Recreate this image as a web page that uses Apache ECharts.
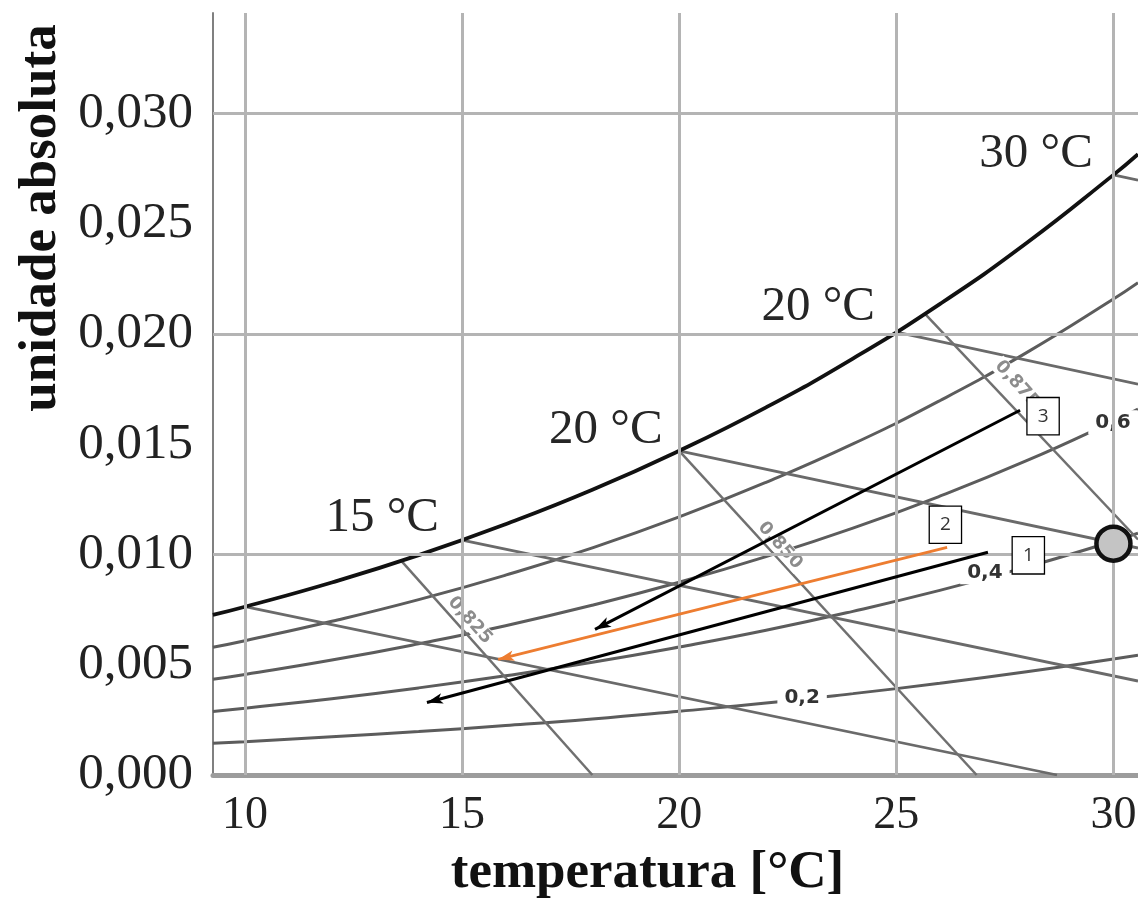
<!DOCTYPE html>
<html><head><meta charset="utf-8">
<script src="https://cdn.jsdelivr.net/npm/echarts@6/dist/echarts.min.js"></script>
<style>html,body{margin:0;padding:0;background:#fff}#c{width:1138px;height:907px}</style>
</head><body><div id="c"></div>
<script>
// axis ticks
const xTicks = [10, 15, 20, 25, 30];
const yTicks = [0, 0.005, 0.010, 0.015, 0.020, 0.025, 0.030];
// temperatures at which the humidity curves are read
const temps  = [9.26, 10, 12, 14, 16, 18, 20, 22, 24, 26, 28, 30, 30.566];
// relative humidity curves (absolute humidity, kg/kg)
const sat100 = [0.00726, 0.00763, 0.00873, 0.00997, 0.01137, 0.01293, 0.01470, 0.01667, 0.01888, 0.02135, 0.02412, 0.02721, 0.02815];
const rh80   = [0.00579, 0.00609, 0.00697, 0.00795, 0.00906, 0.01030, 0.01170, 0.01327, 0.01501, 0.01697, 0.01915, 0.02158, 0.02232];
const rh60   = [0.00434, 0.00456, 0.00521, 0.00595, 0.00677, 0.00770, 0.00874, 0.00990, 0.01119, 0.01264, 0.01425, 0.01604, 0.01659];
const rh40   = [0.00288, 0.00303, 0.00346, 0.00395, 0.00450, 0.00511, 0.00580, 0.00656, 0.00742, 0.00837, 0.00943, 0.01060, 0.01096];
const rh20   = [0.00144, 0.00151, 0.00173, 0.00197, 0.00224, 0.00254, 0.00289, 0.00326, 0.00369, 0.00416, 0.00468, 0.00526, 0.00543];
// wet-bulb lines [T, w] start -> end
const wb10 = [[10, 0.00763], [28.7, 0]];
const wb15 = [[15, 0.01065], [30.566, 0.00426]];
const wb20 = [[20, 0.01470], [30.566, 0.01029]];
const wb25 = [[25, 0.02008], [30.566, 0.01772]];
const wb30 = [[30, 0.02721], [30.566, 0.02697]];
// specific volume lines
const vol825 = [[13.6, 0.00971], [18.0, 0]];
const vol850 = [[20, 0.01470], [26.85, 0]];
const vol875 = [[25.65, 0.02093], [30.566, 0.01068]];
// labels
const wbLabelT = [13.16, 18.31, 23.2, 28.22];
const wbLabelW = [0.01164, 0.01563, 0.02121, 0.02815];
const wbLabelText = ['15 °C', '20 °C', '20 °C', '30 °C'];
const rhLabelT = [29.99, 27.04, 22.83];
const rhLabelW = [0.01599, 0.00919, 0.00352];
const rhLabelText = ['0,6', '0,4', '0,2'];
const vLabelT = [15.18, 22.32, 27.78];
const vLabelW = [0.00701, 0.01041, 0.01772];
const vLabelText = ['0,825', '0,850', '0,875'];
// process arrows [tail, head]
const arrow1 = [[27.11, 0.01010], [14.19, 0.00329]];
const arrow2 = [[26.17, 0.01032], [15.83, 0.00524]];
const arrow3 = [[27.85, 0.01654], [18.06, 0.00660]];
const boxT = [28.04, 26.13, 28.38];
const boxW = [0.00996, 0.01135, 0.01627];
const boxText = ['1', '2', '3'];
const statePoint = [30.0, 0.01049];

const curve = ws => temps.map((t, i) => [t, ws[i]]);
const zipLabels = (ts, ws, txt) => ts.map((t, i) => [t, ws[i], txt[i]]);

const serif = 'Liberation Serif';
const lineSeries = (data, color, width, z) => ({
  type: 'line', data, showSymbol: false, smooth: true, silent: true, z: z || 2,
  lineStyle: { color, width }, emphasis: { disabled: true }
});
const straight = (data, color, width) => ({
  type: 'line', data, showSymbol: false, silent: true, z: 2,
  lineStyle: { color, width }, emphasis: { disabled: true }
});
const labelSeries = (data, label, z) => ({
  type: 'scatter', data, symbolSize: 1, silent: true, z: z || 4,
  itemStyle: { color: 'rgba(0,0,0,0)', opacity: 1 },
  label: Object.assign({ show: true, position: 'inside', formatter: p => p.data[2] }, label),
  emphasis: { disabled: true }
});
const arrowSeries = (coords, color, width) => ({
  type: 'lines', coordinateSystem: 'cartesian2d', silent: true, z: 6,
  symbol: ['none', 'arrow'], symbolSize: [1, [8, 16]],
  lineStyle: { color, width, opacity: 1 },
  data: [{ coords }]
});

const chart = echarts.init(document.getElementById('c'), null, { renderer: 'canvas' });
chart.setOption({
  animation: false,
  backgroundColor: '#fff',
  grid: { left: 213, top: 13, right: 0, bottom: 132, outerBoundsMode: 'none' },
  xAxis: {
    type: 'value', min: 9.263, max: 30.566,
    splitLine: { show: false }, axisTick: { show: false },
    axisLine: { show: true, lineStyle: { color: '#9c9c9c', width: 5 } },
    axisLabel: { customValues: xTicks, fontFamily: serif, fontSize: 46, color: '#222', margin: 18 },
    name: 'temperatura [°C]', nameLocation: 'middle', nameGap: 72,
    nameTextStyle: { fontFamily: serif, fontWeight: 'bold', fontSize: 53, color: '#111', padding: [0, 56, 0, 0] }
  },
  yAxis: {
    type: 'value', min: 0, max: 0.03455,
    splitLine: { show: false }, axisTick: { show: false },
    axisLine: { show: true, lineStyle: { color: '#808080', width: 2 } },
    axisLabel: { customValues: yTicks, fontFamily: serif, fontSize: 51, color: '#222', margin: 20,
      formatter: v => v.toFixed(3).replace('.', ',') },
    name: 'unidade absoluta', nameLocation: 'middle', nameGap: 137, nameRotate: 90,
    nameTextStyle: { fontFamily: serif, fontWeight: 'bold', fontSize: 53, color: '#111', padding: [0, 0, 0, 352] }
  },
  series: [
    {
      type: 'line', data: [], silent: true, z: 1,
      markLine: {
        silent: true, symbol: 'none', label: { show: false }, animation: false,
        lineStyle: { color: '#b4b4b4', width: 3, type: 'solid' },
        emphasis: { disabled: true },
        data: xTicks.map(v => ({ xAxis: v })).concat(yTicks.filter(v => v > 0).map(v => ({ yAxis: v })))
      }
    },
    lineSeries(curve(rh20), '#5c5c5c', 3),
    lineSeries(curve(rh40), '#5c5c5c', 3),
    lineSeries(curve(rh60), '#5c5c5c', 3),
    lineSeries(curve(rh80), '#5c5c5c', 3),
    lineSeries(curve(sat100), '#111', 3.8, 3),
    straight(wb10, '#6a6a6a', 2.8),
    straight(wb15, '#6a6a6a', 2.8),
    straight(wb20, '#6a6a6a', 2.8),
    straight(wb25, '#6a6a6a', 2.8),
    straight(wb30, '#6a6a6a', 2.8),
    straight(vol825, '#707070', 2.5),
    straight(vol850, '#707070', 2.5),
    straight(vol875, '#707070', 2.5),
    labelSeries(zipLabels(vLabelT, vLabelW, vLabelText), {
      fontFamily: 'DejaVu Sans', fontWeight: 'bold', fontSize: 18, color: '#8c8c8c', rotate: -48,
      backgroundColor: '#fff', padding: [0, 2]
    }),
    labelSeries(zipLabels(rhLabelT, rhLabelW, rhLabelText), {
      fontFamily: 'DejaVu Sans', fontWeight: 'bold', fontSize: 20, color: '#333',
      backgroundColor: '#fff', padding: [2, 7]
    }),
    labelSeries(zipLabels(wbLabelT, wbLabelW, wbLabelText), {
      fontFamily: serif, fontSize: 49, color: '#262626'
    }),
    {
      type: 'scatter', data: [statePoint], symbolSize: 34, silent: true, z: 5,
      itemStyle: { color: '#c4c4c4', borderColor: '#111', borderWidth: 4.5, opacity: 1 },
      emphasis: { disabled: true }
    },
    arrowSeries(arrow1, '#000', 3),
    arrowSeries(arrow2, '#ED7D31', 2.8),
    arrowSeries(arrow3, '#000', 3),
    labelSeries(zipLabels(boxT, boxW, boxText), {
      fontFamily: 'Open Sans', fontSize: 19, color: '#333', backgroundColor: '#fff',
      borderColor: '#000', borderWidth: 1.3, width: 31, height: 36, lineHeight: 36,
      align: 'center', verticalAlign: 'middle', padding: 0
    }, 7)
  ]
});
</script></body></html>
